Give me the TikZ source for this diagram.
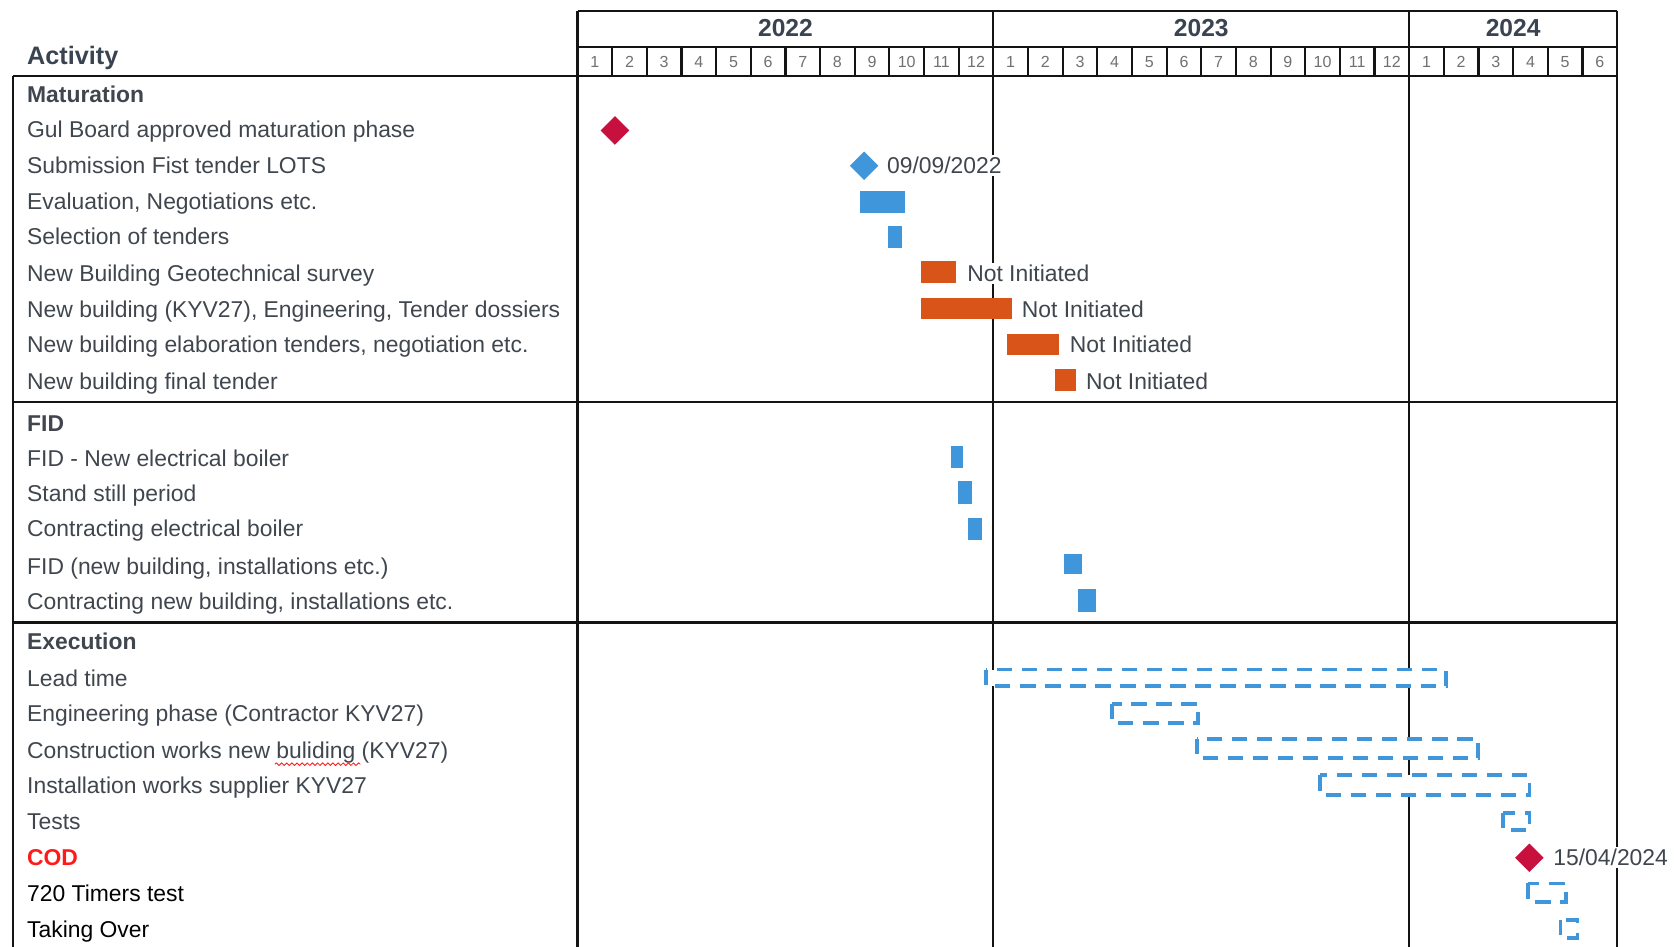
\documentclass[tikz,border=0pt]{standalone}
\usepackage{fontspec}
\setmainfont{Liberation Sans}
\usetikzlibrary{shapes.geometric,decorations.pathmorphing}
\definecolor{txt}{RGB}{64,70,78}
\definecolor{hdr}{RGB}{58,68,80}
\definecolor{mon}{RGB}{110,112,116}
\definecolor{gblue}{RGB}{64,150,218}
\definecolor{gorange}{RGB}{217,84,24}
\definecolor{gcrimson}{RGB}{200,16,62}
\definecolor{codred}{RGB}{255,26,26}
\definecolor{gridc}{RGB}{20,20,20}
\begin{document}
\begin{tikzpicture}[x=0.5pt,y=-0.5pt,
  gridline/.style={draw=gridc,line width=1pt},
  act/.style={anchor=base west,inner sep=0pt,text=txt,font=\fontsize{10.7}{12}\selectfont},
  actblack/.style={act,text=black},
  sect/.style={act,font=\fontsize{10.7}{12}\selectfont\bfseries},
  monthlbl/.style={inner sep=0pt,text=mon,font=\fontsize{7.5}{9}\selectfont},
  yearlbl/.style={inner sep=0pt,text=hdr,font=\fontsize{11.5}{13}\selectfont\bfseries},
  bluebar/.style={fill=gblue},
  orangebar/.style={fill=gorange},
  plan/.style={draw=gblue,fill=white,line width=1.8pt,dash pattern=on 7.2pt off 4.5pt},
  ms/.style={diamond,inner sep=0pt,minimum width=13.5pt,minimum height=13.5pt},
  note/.style={anchor=base west,inner sep=1pt,fill=white,text=txt,font=\fontsize{10.7}{12}\selectfont}
]
\useasboundingbox (0,0) rectangle (1568,885.4);

% ---------- grid ----------
\draw[gridline] (540,10) -- (1512,10);
\draw[gridline] (540,44) -- (1512,44);
\draw[gridline] (12,71) -- (1512,71);
\draw[gridline] (12,376) -- (1512,376);
\draw[gridline] (12,582) -- (1512,582);
\draw[gridline] (12,71) -- (12,885.4);
\draw[gridline] (540,10) -- (540,885.4);
\draw[gridline] (928.8,10) -- (928.8,885.4);
\draw[gridline] (1317.6,10) -- (1317.6,885.4);
\draw[gridline] (1512,10) -- (1512,885.4);
\foreach \k in {1,...,11,13,14,...,23,25,26,27,28,29}
  \draw[gridline] ({540+\k*32.4},44) -- ({540+\k*32.4},71);

% ---------- header ----------
\node[yearlbl] (y2022) at (734.4,26.5) {2022};
\node[yearlbl] (y2023) at (1123.2,26.5) {2023};
\node[yearlbl] (y2024) at (1414.8,26.5) {2024};
\foreach \m [count=\i] in {1,2,3,4,5,6,7,8,9,10,11,12,1,2,3,4,5,6,7,8,9,10,11,12,1,2,3,4,5,6}
  \node[monthlbl] (m\i) at ({540+(\i-0.5)*32.4},58) {\m};
\node[anchor=base west,inner sep=0pt,text=hdr,font=\fontsize{11.8}{14}\selectfont\bfseries] (activity) at (25,60.5) {Activity};

% ---------- activity column ----------
\node[sect] (r1) at (25,96) {Maturation};
\node[act] (r2) at (25,129) {Gul Board approved maturation phase};
\node[act] (r3) at (25,162) {Submission Fist tender LOTS};
\node[act] (r4) at (25,196) {Evaluation, Negotiations etc.};
\node[act] (r5) at (25,229) {Selection of tenders};
\node[act] (r6) at (25,263) {New Building Geotechnical survey};
\node[act] (r7) at (25,297) {New building (KYV27), Engineering, Tender dossiers};
\node[act] (r8) at (25,330) {New building elaboration tenders, negotiation etc.};
\node[act] (r9) at (25,364) {New building final tender};
\node[sect] (r10) at (25,403) {FID};
\node[act] (r11) at (25,436) {FID - New electrical boiler};
\node[act] (r12) at (25,469) {Stand still period};
\node[act] (r13) at (25,502) {Contracting electrical boiler};
\node[act] (r14) at (25,537) {FID (new building, installations etc.)};
\node[act] (r15) at (25,570) {Contracting new building, installations etc.};
\node[sect] (r16) at (25,607) {Execution};
\node[act] (r17) at (25,642) {Lead time};
\node[act] (r18) at (25,675) {Engineering phase (Contractor KYV27)};
\node[act] (r19) at (25,709) {Construction works new buliding (KYV27)};
\node[act] (r20) at (25,742) {Installation works supplier KYV27};
\node[act] (r21) at (25,776) {Tests};
\node[sect,text=codred] (r22) at (25,809) {COD};
\node[actblack] (r23) at (25,843) {720 Timers test};
\node[actblack] (r24) at (25,877) {Taking Over};
\draw[codred,line width=0.4pt,decorate,decoration={snake,amplitude=0.6pt,segment length=2.4pt}] (257,714.5) -- (337,714.5);

% ---------- bars ----------
\fill[bluebar] (804,179) rectangle (846,199);
\fill[bluebar] (830,211) rectangle (843,232);
\fill[orangebar] (861,244) rectangle (894,265);
\fill[orangebar] (861,279) rectangle (946,298);
\fill[orangebar] (942,312) rectangle (990,332);
\fill[orangebar] (986,345) rectangle (1006,366);
\fill[bluebar] (889,417) rectangle (900,438);
\fill[bluebar] (896,450) rectangle (909,471);
\fill[bluebar] (905,484) rectangle (918,505);
\fill[bluebar] (995,518) rectangle (1012,537);
\fill[bluebar] (1008,551) rectangle (1025,572);

% ---------- planned (dashed) ----------
\draw[plan] (922,626) rectangle (1352,641);
\draw[plan] (1040,658) rectangle (1120,676);
\draw[plan] (1119,691) rectangle (1382,709);
\draw[plan] (1234,725) rectangle (1430,743);
\draw[plan] (1405,760) rectangle (1430,776);
\draw[plan] (1429,826) rectangle (1464,843);
\draw[plan] (1459,860) rectangle (1475,877);

% ---------- milestones ----------
\node[ms,fill=gcrimson] (ms1) at (575,122) {};
\node[ms,fill=gblue] (ms2) at (808,155) {};
\node[ms,fill=gcrimson] (ms3) at (1430,802) {};

% ---------- labels ----------
\node[note] (d1) at (827,162) {09/09/2022};
\node[note] (n1) at (902,263) {Not Initiated};
\node[note] (n2) at (953,297) {Not Initiated};
\node[note] (n3) at (998,330) {Not Initiated};
\node[note] (n4) at (1013,364) {Not Initiated};
\node[note] (d2) at (1450,809) {15/04/2024};
\end{tikzpicture}
\end{document}
